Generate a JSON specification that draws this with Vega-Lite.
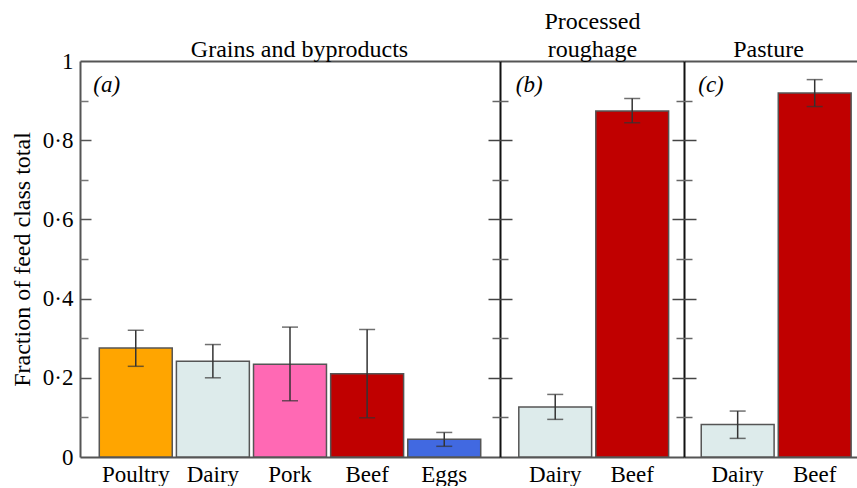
{
  "$schema": "https://vega.github.io/schema/vega-lite/v6.json",
  "datasets": {
    "feed": [
      {"panel": "a", "animal": "Poultry", "value": 0.275, "lo": 0.229, "hi": 0.320},
      {"panel": "a", "animal": "Dairy", "value": 0.242, "lo": 0.200, "hi": 0.284},
      {"panel": "a", "animal": "Pork", "value": 0.234, "lo": 0.142, "hi": 0.328},
      {"panel": "a", "animal": "Beef", "value": 0.210, "lo": 0.099, "hi": 0.322},
      {"panel": "a", "animal": "Eggs", "value": 0.045, "lo": 0.027, "hi": 0.062},
      {"panel": "b", "animal": "Dairy", "value": 0.126, "lo": 0.095, "hi": 0.158},
      {"panel": "b", "animal": "Beef", "value": 0.874, "lo": 0.844, "hi": 0.905},
      {"panel": "c", "animal": "Dairy", "value": 0.082, "lo": 0.047, "hi": 0.116},
      {"panel": "c", "animal": "Beef", "value": 0.919, "lo": 0.885, "hi": 0.953}
    ]
  },
  "data": {"name": "feed"},
  "padding": {"left": 10, "top": 9, "right": 0, "bottom": 0},
  "spacing": 0,
  "bounds": "flush",
  "resolve": {"scale": {"x": "independent", "y": "independent"}},
  "config": {
    "font": "Liberation Serif, DejaVu Serif, serif",
    "view": {"stroke": null},
    "text": {"font": "Liberation Serif, DejaVu Serif, serif"},
    "axis": {"grid": false, "labelFont": "Liberation Serif, DejaVu Serif, serif", "titleFont": "Liberation Serif, DejaVu Serif, serif", "labelColor": "#000", "titleColor": "#000", "titleFontWeight": "normal", "labelOverlap": false, "labelFlush": false, "labelBound": false}
  },
  "hconcat": [
    {
      "width": 420,
      "height": 396,
      "transform": [{"filter": "datum.panel === 'a'"}],
      "layer": [
        {
          "mark": {"type": "bar", "stroke": "#555", "strokeWidth": 1.5},
          "encoding": {
            "x": {"field": "animal", "type": "nominal", "sort": null, "scale": {"paddingInner": 0.054, "paddingOuter": 0.25},
              "axis": {"orient": "bottom", "title": null, "ticks": false, "domain": true, "domainColor": "#555", "domainWidth": 2, "labelAngle": 0, "labelFontSize": 23, "labelPadding": 6}},
            "y": {"field": "value", "type": "quantitative", "scale": {"domain": [0, 1], "nice": false},
              "axis": {"orient": "left", "values": [0, 0.2, 0.4, 0.6, 0.8, 1], "format": ".1~f", "labelExpr": "replace(datum.label, '.', '·')", "ticks": false, "domain": true, "domainColor": "#555", "domainWidth": 2, "labelPadding": 7, "labelFontSize": 23, "title": "Fraction of feed class total", "titleFontSize": 24, "titlePadding": 8}},
            "color": {"field": "animal", "type": "nominal", "scale": {"domain": ["Poultry", "Dairy", "Pork", "Beef", "Eggs"], "range": ["#FFA500", "#DDEBEB", "#FF69B4", "#C00000", "#4169E1"]}, "legend": null}
          }
        },
        {
          "mark": {"type": "rule", "color": "#333", "strokeWidth": 1.5},
          "encoding": {
            "x": {"field": "animal", "type": "nominal", "sort": null, "scale": {"paddingInner": 0.054, "paddingOuter": 0.25},
              "axis": {"orient": "top", "title": "Grains and byproducts", "titleFontSize": 24, "titlePadding": 0, "titleX": 219, "ticks": false, "labels": false, "domain": true, "domainColor": "#555", "domainWidth": 2}},
            "y": {"field": "lo", "type": "quantitative", "scale": {"domain": [0, 1], "nice": false},
              "axis": {"orient": "left", "values": [0.2, 0.4, 0.6, 0.8], "labels": false, "domain": false, "ticks": true, "tickSize": 11, "offset": -11, "tickColor": "#555", "tickWidth": 1.5, "title": null}},
            "y2": {"field": "hi"}
          }
        },
        {
          "mark": {"type": "tick", "color": "#333", "thickness": 1.5, "size": 16},
          "encoding": {
            "x": {"field": "animal", "type": "nominal", "sort": null, "scale": {"paddingInner": 0.054, "paddingOuter": 0.25}, "axis": null},
            "y": {"field": "lo", "type": "quantitative", "scale": {"domain": [0, 1], "nice": false},
              "axis": {"orient": "left", "values": [0.1, 0.3, 0.5, 0.7, 0.9], "labels": false, "domain": false, "ticks": true, "tickSize": 8, "offset": -8, "tickColor": "#777", "tickWidth": 1.5, "title": null}}
          }
        },
        {
          "mark": {"type": "tick", "color": "#333", "thickness": 1.5, "size": 16},
          "encoding": {
            "x": {"field": "animal", "type": "nominal", "sort": null, "scale": {"paddingInner": 0.054, "paddingOuter": 0.25}, "axis": null},
            "y": {"field": "hi", "type": "quantitative", "scale": {"domain": [0, 1], "nice": false}, "axis": null}
          }
        },
        {
          "transform": [{"filter": "datum.animal === 'Poultry'"}],
          "mark": {"type": "text", "text": "(a)", "font": "Liberation Serif, DejaVu Serif, serif", "fontSize": 23, "fontStyle": "italic", "align": "left", "baseline": "top", "dx": -6, "dy": 13},
          "encoding": {
            "x": {"field": "animal", "type": "nominal", "sort": null, "bandPosition": 0, "scale": {"paddingInner": 0.054, "paddingOuter": 0.25}, "axis": null},
            "y": {"datum": 1, "type": "quantitative", "scale": {"domain": [0, 1], "nice": false}, "axis": null}
          }
        }
      ],
      "resolve": {"axis": {"x": "independent", "y": "independent"}}
    },
    {
      "width": 184,
      "height": 396,
      "transform": [{"filter": "datum.panel === 'b'"}],
      "layer": [
        {
          "mark": {"type": "bar", "stroke": "#555", "strokeWidth": 1.5},
          "encoding": {
            "x": {"field": "animal", "type": "nominal", "sort": null, "scale": {"paddingInner": 0.054, "paddingOuter": 0.222, "align": 0.55},
              "axis": {"orient": "bottom", "title": null, "ticks": false, "domain": true, "domainColor": "#555", "domainWidth": 2, "labelAngle": 0, "labelFontSize": 23, "labelPadding": 6}},
            "y": {"field": "value", "type": "quantitative", "scale": {"domain": [0, 1], "nice": false},
              "axis": {"orient": "left", "labels": false, "ticks": false, "domain": true, "domainColor": "#111", "domainWidth": 2, "title": null}},
            "color": {"field": "animal", "type": "nominal", "scale": {"domain": ["Poultry", "Dairy", "Pork", "Beef", "Eggs"], "range": ["#FFA500", "#DDEBEB", "#FF69B4", "#C00000", "#4169E1"]}, "legend": null}
          }
        },
        {
          "mark": {"type": "rule", "color": "#333", "strokeWidth": 1.5},
          "encoding": {
            "x": {"field": "animal", "type": "nominal", "sort": null, "scale": {"paddingInner": 0.054, "paddingOuter": 0.222, "align": 0.55},
              "axis": {"orient": "top", "title": ["Processed", "roughage"], "titleFontSize": 24, "titleLineHeight": 28, "titlePadding": 0, "ticks": false, "labels": false, "domain": true, "domainColor": "#555", "domainWidth": 2}},
            "y": {"field": "lo", "type": "quantitative", "scale": {"domain": [0, 1], "nice": false},
              "axis": {"orient": "left", "values": [0.2, 0.4, 0.6, 0.8], "labels": false, "domain": false, "ticks": true, "tickSize": 24, "offset": -12, "tickColor": "#444", "tickWidth": 1.5, "title": null}},
            "y2": {"field": "hi"}
          }
        },
        {
          "mark": {"type": "tick", "color": "#333", "thickness": 1.5, "size": 16},
          "encoding": {
            "x": {"field": "animal", "type": "nominal", "sort": null, "scale": {"paddingInner": 0.054, "paddingOuter": 0.222, "align": 0.55}, "axis": null},
            "y": {"field": "lo", "type": "quantitative", "scale": {"domain": [0, 1], "nice": false},
              "axis": {"orient": "left", "values": [0.1, 0.3, 0.5, 0.7, 0.9], "labels": false, "domain": false, "ticks": true, "tickSize": 16, "offset": -8, "tickColor": "#666", "tickWidth": 1.5, "title": null}}
          }
        },
        {
          "mark": {"type": "tick", "color": "#333", "thickness": 1.5, "size": 16},
          "encoding": {
            "x": {"field": "animal", "type": "nominal", "sort": null, "scale": {"paddingInner": 0.054, "paddingOuter": 0.222, "align": 0.55}, "axis": null},
            "y": {"field": "hi", "type": "quantitative", "scale": {"domain": [0, 1], "nice": false}, "axis": null}
          }
        },
        {
          "transform": [{"filter": "datum.animal === 'Dairy'"}],
          "mark": {"type": "text", "text": "(b)", "font": "Liberation Serif, DejaVu Serif, serif", "fontSize": 23, "fontStyle": "italic", "align": "left", "baseline": "top", "dx": -3, "dy": 13},
          "encoding": {
            "x": {"field": "animal", "type": "nominal", "sort": null, "bandPosition": 0, "scale": {"paddingInner": 0.054, "paddingOuter": 0.222, "align": 0.55}, "axis": null},
            "y": {"datum": 1, "type": "quantitative", "scale": {"domain": [0, 1], "nice": false}, "axis": null}
          }
        }
      ],
      "resolve": {"axis": {"x": "independent", "y": "independent"}}
    },
    {
      "width": 173,
      "height": 396,
      "transform": [{"filter": "datum.panel === 'c'"}],
      "layer": [
        {
          "mark": {"type": "bar", "stroke": "#555", "strokeWidth": 1.5},
          "encoding": {
            "x": {"field": "animal", "type": "nominal", "sort": null, "scale": {"paddingInner": 0.054, "paddingOuter": 0.15, "align": 0.746},
              "axis": {"orient": "bottom", "title": null, "ticks": false, "domain": true, "domainColor": "#555", "domainWidth": 2, "labelAngle": 0, "labelFontSize": 23, "labelPadding": 6}},
            "y": {"field": "value", "type": "quantitative", "scale": {"domain": [0, 1], "nice": false},
              "axis": {"orient": "left", "labels": false, "ticks": false, "domain": true, "domainColor": "#111", "domainWidth": 2, "title": null}},
            "color": {"field": "animal", "type": "nominal", "scale": {"domain": ["Poultry", "Dairy", "Pork", "Beef", "Eggs"], "range": ["#FFA500", "#DDEBEB", "#FF69B4", "#C00000", "#4169E1"]}, "legend": null}
          }
        },
        {
          "mark": {"type": "rule", "color": "#333", "strokeWidth": 1.5},
          "encoding": {
            "x": {"field": "animal", "type": "nominal", "sort": null, "scale": {"paddingInner": 0.054, "paddingOuter": 0.15, "align": 0.746},
              "axis": {"orient": "top", "title": "Pasture", "titleFontSize": 24, "titlePadding": 0, "titleX": 84, "ticks": false, "labels": false, "domain": true, "domainColor": "#555", "domainWidth": 2}},
            "y": {"field": "lo", "type": "quantitative", "scale": {"domain": [0, 1], "nice": false},
              "axis": {"orient": "left", "values": [0.2, 0.4, 0.6, 0.8], "labels": false, "domain": false, "ticks": true, "tickSize": 24, "offset": -12, "tickColor": "#444", "tickWidth": 1.5, "title": null}},
            "y2": {"field": "hi"}
          }
        },
        {
          "mark": {"type": "tick", "color": "#333", "thickness": 1.5, "size": 16},
          "encoding": {
            "x": {"field": "animal", "type": "nominal", "sort": null, "scale": {"paddingInner": 0.054, "paddingOuter": 0.15, "align": 0.746}, "axis": null},
            "y": {"field": "lo", "type": "quantitative", "scale": {"domain": [0, 1], "nice": false},
              "axis": {"orient": "left", "values": [0.1, 0.3, 0.5, 0.7, 0.9], "labels": false, "domain": false, "ticks": true, "tickSize": 16, "offset": -8, "tickColor": "#666", "tickWidth": 1.5, "title": null}}
          }
        },
        {
          "mark": {"type": "tick", "color": "#333", "thickness": 1.5, "size": 16},
          "encoding": {
            "x": {"field": "animal", "type": "nominal", "sort": null, "scale": {"paddingInner": 0.054, "paddingOuter": 0.15, "align": 0.746}, "axis": null},
            "y": {"field": "hi", "type": "quantitative", "scale": {"domain": [0, 1], "nice": false}, "axis": null}
          }
        },
        {
          "transform": [{"filter": "datum.animal === 'Dairy'"}],
          "mark": {"type": "text", "text": "(c)", "font": "Liberation Serif, DejaVu Serif, serif", "fontSize": 23, "fontStyle": "italic", "align": "left", "baseline": "top", "dx": -3, "dy": 13},
          "encoding": {
            "x": {"field": "animal", "type": "nominal", "sort": null, "bandPosition": 0, "scale": {"paddingInner": 0.054, "paddingOuter": 0.15, "align": 0.746}, "axis": null},
            "y": {"datum": 1, "type": "quantitative", "scale": {"domain": [0, 1], "nice": false}, "axis": null}
          }
        }
      ],
      "resolve": {"axis": {"x": "independent", "y": "independent"}}
    }
  ]
}
